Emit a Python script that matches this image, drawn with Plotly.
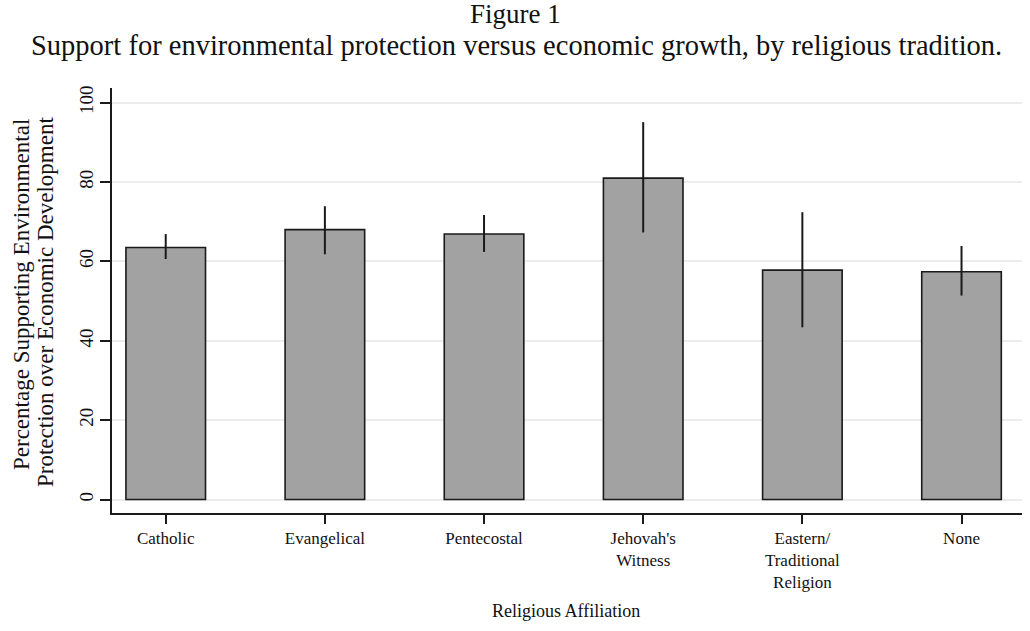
import plotly.graph_objects as go

# Support for environmental protection by religious tradition (percent, with 95% CI bounds)
categories = ["Catholic", "Evangelical", "Pentecostal", "Jehovah's<br>Witness",
              "Eastern/<br>Traditional<br>Religion", "None"]
support_pct = [63.5, 68.0, 66.9, 81.0, 57.8, 57.4]
ci_upper = [66.9, 73.9, 71.7, 95.1, 72.4, 63.9]
ci_lower = [60.6, 61.8, 62.4, 67.3, 43.4, 51.4]
y_ticks = [0, 20, 40, 60, 80, 100]

err_plus = [u - v for u, v in zip(ci_upper, support_pct)]
err_minus = [v - l for v, l in zip(support_pct, ci_lower)]

SERIF = "Liberation Serif, Times New Roman, serif"
W, H = 1030, 631
M_L, M_R, M_T, M_B = 112, 8, 88, 118

fig = go.Figure()
fig.add_trace(go.Bar(
    x=list(range(len(categories))),
    y=support_pct,
    width=0.5,
    marker=dict(color="#a2a2a2", line=dict(color="#1a1a1a", width=1.6)),
    error_y=dict(type="data", symmetric=False, array=err_plus, arrayminus=err_minus,
                 color="#1a1a1a", thickness=2, width=0),
    showlegend=False,
))

# Text blocks placed by page pixel centre: (text, x, y, size, angle)
texts = [
    ("Figure 1", 515, 14, 27, 0),
    ("Support for environmental protection versus economic growth, by religious tradition.",
     516, 45, 28.5, 0),
    ("Percentage Supporting Environmental", 21, 295, 23, -90),
    ("Protection over Economic Development", 45, 302, 23, -90),
    ("Religious Affiliation", 566, 611, 18, 0),
]

annotations = []
for text, px, py, size, angle in texts:
    annotations.append(dict(
        text=text, textangle=angle, showarrow=False,
        xref="paper", yref="paper",
        x=(px - M_L) / (W - M_L - M_R),
        y=(H - M_B - py) / (H - M_T - M_B),
        xanchor="center", yanchor="middle",
        font=dict(size=size, family=SERIF, color="#111111"),
    ))

fig.update_layout(
    width=W, height=H,
    margin=dict(l=M_L, r=M_R, t=M_T, b=M_B),
    paper_bgcolor="white", plot_bgcolor="white",
    font=dict(family=SERIF, color="#111111"),
    xaxis=dict(
        range=[-0.3375, 5.38],
        tickmode="array", tickvals=list(range(len(categories))), ticktext=categories,
        tickfont=dict(size=17, family=SERIF),
        ticks="outside", ticklen=9, tickwidth=1.6, tickcolor="#1a1a1a",
        showline=True, linecolor="#1a1a1a", linewidth=1.6,
        showgrid=False, zeroline=False, fixedrange=True,
    ),
    yaxis=dict(
        range=[-3.4, 103.7],
        tickmode="array", tickvals=y_ticks,
        tickangle=-90,
        tickfont=dict(size=19, family=SERIF),
        ticks="outside", ticklen=10, tickwidth=1.6, tickcolor="#1a1a1a",
        showline=True, linecolor="#1a1a1a", linewidth=1.6,
        showgrid=True, gridcolor="#ececec", gridwidth=1.5,
        zeroline=False, fixedrange=True,
    ),
    annotations=annotations,
)

fig.write_html("out.html")
